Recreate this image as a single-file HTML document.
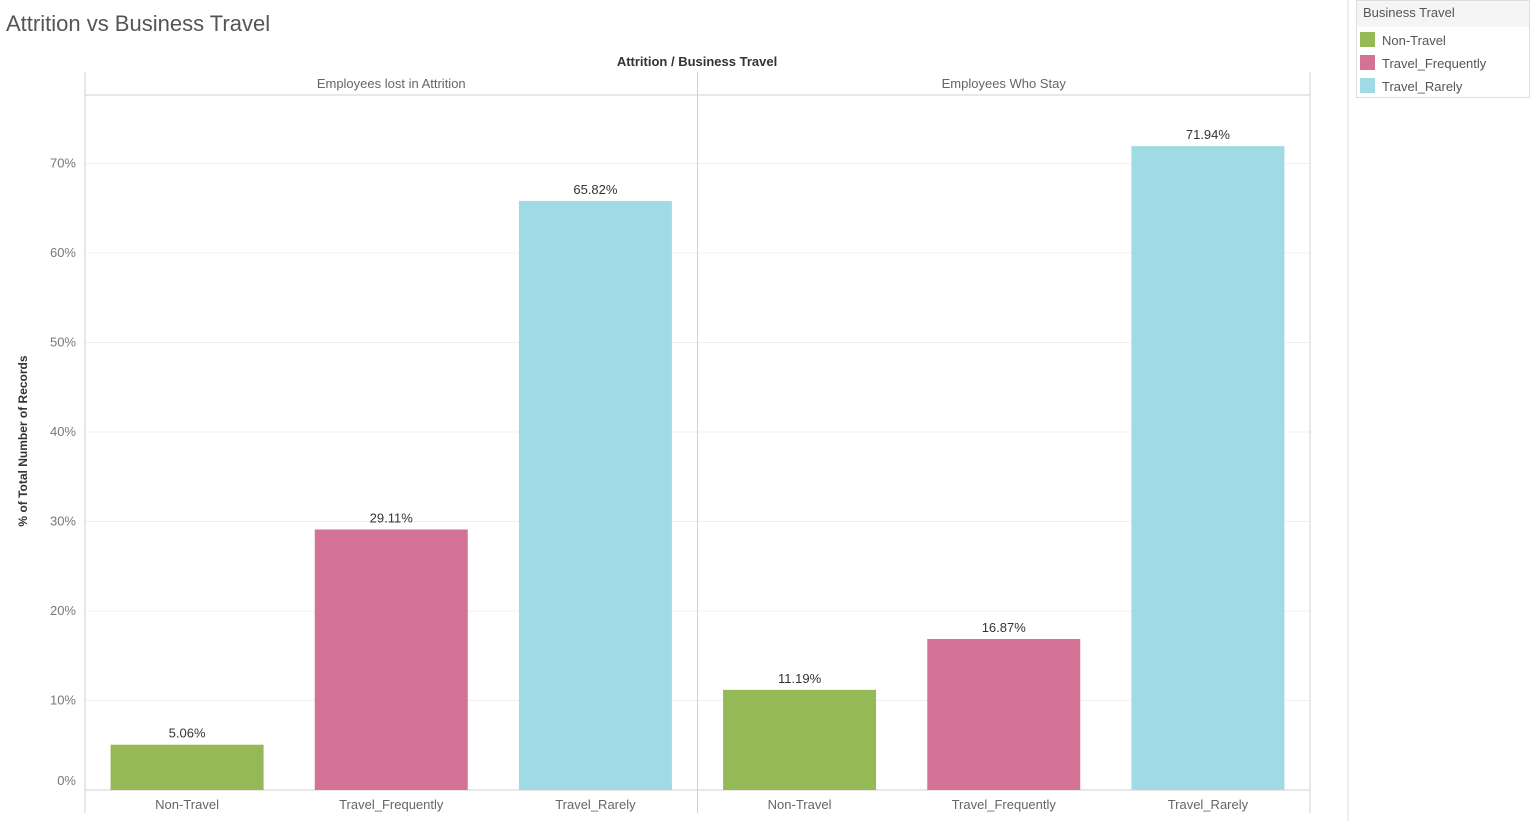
<!DOCTYPE html>
<html><head><meta charset="utf-8"><style>
body{margin:0;background:#fff;width:1536px;height:821px;overflow:hidden;font-family:"Liberation Sans",sans-serif}
svg{display:block}
</style></head><body>
<svg id="c" width="1536" height="821">
<text x="6" y="31" font-size="22" fill="#555">Attrition vs Business Travel</text>
<text x="697" y="66" font-size="13" font-weight="bold" fill="#333" text-anchor="middle">Attrition / Business Travel</text>
<text transform="translate(27,441) rotate(-90)" font-size="12" font-weight="bold" fill="#333" text-anchor="middle">% of Total Number of Records</text>
<line x1="1348" y1="0" x2="1348" y2="821" stroke="#ddd"/>
<g>
<rect x="1356.5" y="0.5" width="173" height="97" fill="#fff" stroke="#ddd"/>
<rect x="1357" y="1" width="172" height="26" fill="#f5f5f5"/>
<text x="1363" y="17" font-size="13" fill="#555">Business Travel</text>
</g>
<g id="plot"></g>
</svg>
<script>
const panels=["Employees lost in Attrition","Employees Who Stay"];
const categories=["Non-Travel","Travel_Frequently","Travel_Rarely"];
const colors=["#94b956","#d37295","#a0dae5"];
const attritionValues=[5.06,29.11,65.82];
const stayValues=[11.19,16.87,71.94];
const yTicks=[0,10,20,30,40,50,60,70];
const series=[attritionValues,stayValues];
const NS="http://www.w3.org/2000/svg";
const g=document.getElementById('plot');
const svg=document.getElementById('c');
const left=85,pw=612.5,base=790,scale=8.95;
const y=v=>base-v*scale;
const x=(p,i)=>left+p*pw+i*(pw/3);
function mk(t,a,parent){const e=document.createElementNS(NS,t);for(const k in a)e.setAttribute(k,a[k]);(parent||g).appendChild(e);return e;}
// gridlines & ticks
yTicks.forEach(t=>{
  const l=mk('line',{x1:left,x2:left+2*pw,y1:y(t),y2:y(t),stroke:'#f0f0f0'});
  
  
  const tx=mk('text',{x:76,y:Math.min(y(t)+4,785),'font-size':13,fill:'#777','text-anchor':'end'});
  tx.textContent=t+'%';
  
  
});
// frame lines
[[left,72,left,813],[left+pw,72,left+pw,813],[left+2*pw,72,left+2*pw,813],[left,95,left+2*pw,95],[left,790,left+2*pw,790]].forEach((c,k)=>{
  const l=mk('line',{x1:c[0],y1:c[1],x2:c[2],y2:c[3],stroke:'#d0d0d0'});
  
  
});
panels.forEach((p,pi)=>{
  const h=mk('text',{x:left+pi*pw+pw/2,y:88,'font-size':13,fill:'#666','text-anchor':'middle'});
  h.textContent=p;
  
  
  categories.forEach((c,i)=>{
    const v=series[pi][i];
    const cx=x(pi,i)+pw/6;
    const r=mk('rect',{x:cx-76.5,y:y(v),width:153,height:base-y(v),fill:colors[i]});
    
    
    const lb=mk('text',{x:cx,y:y(v)-7,'font-size':13,fill:'#333','text-anchor':'middle'});
    lb.textContent=v.toFixed(2)+'%';
    
    
    const cl=mk('text',{x:cx,y:809,'font-size':13,fill:'#666','text-anchor':'middle'});
    cl.textContent=c;
    
    
  });
});
categories.forEach((c,i)=>{
  const r=mk('rect',{x:1360,y:32+i*23,width:15,height:15,fill:colors[i]},svg);
  
  
  const t=mk('text',{x:1382,y:45+i*23,'font-size':13,fill:'#555'},svg);
  t.textContent=c;
  
  
});
</script>
</body></html>
